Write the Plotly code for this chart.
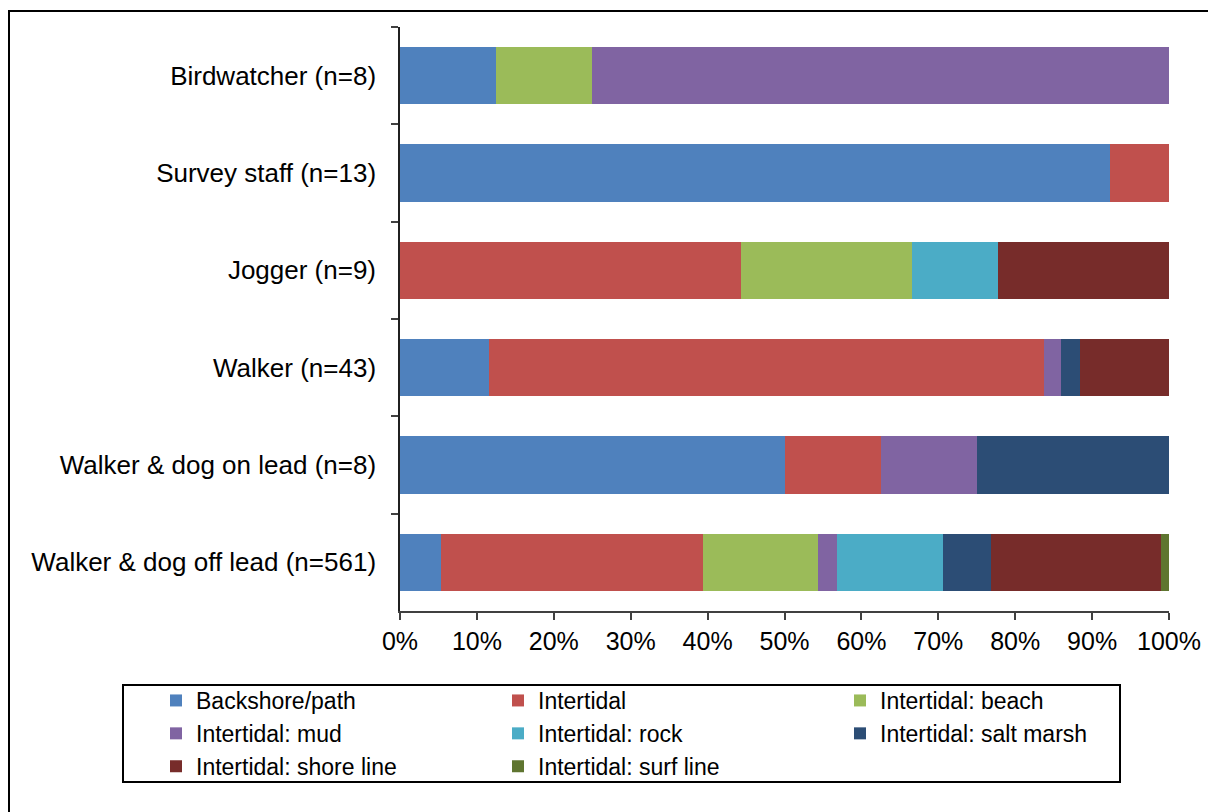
import plotly.graph_objects as go

# Visitor groups (top to bottom) and the share of each group's observations by zone
groups = [
    "Birdwatcher (n=8)",
    "Survey staff (n=13)",
    "Jogger (n=9)",
    "Walker (n=43)",
    "Walker & dog on lead (n=8)",
    "Walker & dog off lead (n=561)",
]

zones = [
    "Backshore/path",
    "Intertidal",
    "Intertidal: beach",
    "Intertidal: mud",
    "Intertidal: rock",
    "Intertidal: salt marsh",
    "Intertidal: shore line",
    "Intertidal: surf line",
]

backshore_path = [0.125, 0.923, 0.0, 0.116, 0.500, 0.0535]
intertidal = [0.0, 0.077, 0.444, 0.721, 0.125, 0.3405]
intertidal_beach = [0.125, 0.0, 0.222, 0.0, 0.0, 0.1497]
intertidal_mud = [0.750, 0.0, 0.0, 0.023, 0.125, 0.0250]
intertidal_rock = [0.0, 0.0, 0.111, 0.0, 0.0, 0.1373]
intertidal_salt_marsh = [0.0, 0.0, 0.0, 0.024, 0.250, 0.0624]
intertidal_shore_line = [0.0, 0.0, 0.223, 0.116, 0.0, 0.2210]
intertidal_surf_line = [0.0, 0.0, 0.0, 0.0, 0.0, 0.0107]

series = [
    backshore_path,
    intertidal,
    intertidal_beach,
    intertidal_mud,
    intertidal_rock,
    intertidal_salt_marsh,
    intertidal_shore_line,
    intertidal_surf_line,
]

colors = ["#4F81BD", "#C0504D", "#9BBB59", "#8064A2",
          "#4BACC6", "#2C4D75", "#772C2A", "#5F7530"]

x_ticks = [i / 10 for i in range(11)]
x_tick_labels = [f"{i * 10}%" for i in range(11)]

W, H = 1208, 812
ML, MR, MT, MB = 400, 39, 27, 201
PW, PH = W - ML - MR, H - MT - MB
FONT = "Liberation Sans, Arial, sans-serif"


def px_x(x):
    return (x - ML) / PW


def px_y(y):
    return (H - MB - y) / PH


fig = go.Figure()
for name, vals, col in zip(zones, series, colors):
    fig.add_trace(go.Bar(
        y=groups, x=vals, name=name, orientation="h",
        marker=dict(color=col, line=dict(width=0)),
    ))

fig.update_layout(
    width=W, height=H,
    margin=dict(l=ML, r=MR, t=MT, b=MB, pad=0, autoexpand=False),
    barmode="stack", bargap=0.41,
    plot_bgcolor="white", paper_bgcolor="white",
    font=dict(family=FONT, size=25, color="black"),
    showlegend=True,
    legend=dict(
        orientation="h", traceorder="normal",
        xref="paper", yref="paper",
        x=px_x(156), y=px_y(679), xanchor="left", yanchor="top",
        entrywidth=297, entrywidthmode="pixels", itemwidth=30,
        font=dict(family=FONT, size=23, color="black"),
        bgcolor="rgba(0,0,0,0)", borderwidth=0,
    ),
    xaxis=dict(
        range=[0, 1], tickvals=x_ticks, ticktext=x_tick_labels,
        showgrid=False, zeroline=False,
        showline=True, linecolor="#404040", linewidth=1.5,
        ticks="outside", ticklen=7, tickcolor="#404040", tickwidth=1.5,
        tickfont=dict(family=FONT, size=25, color="black"),
    ),
    yaxis=dict(
        autorange="reversed", showgrid=False, zeroline=False,
        showline=True, linecolor="#202020", linewidth=1.5,
        ticks="outside", ticklen=7, tickcolor="#404040", tickwidth=1.5,
        tickson="boundaries", ticklabelstandoff=17,
        tickfont=dict(family=FONT, size=26, color="black"),
    ),
    shapes=[
        # outer chart frame
        dict(type="rect", xref="paper", yref="paper",
             x0=px_x(9), x1=px_x(1220), y0=px_y(830), y1=px_y(11),
             line=dict(color="black", width=2), fillcolor="rgba(0,0,0,0)", layer="above"),
        # legend frame
        dict(type="rect", xref="paper", yref="paper",
             x0=px_x(123), x1=px_x(1120), y0=px_y(782), y1=px_y(685),
             line=dict(color="black", width=2), fillcolor="rgba(0,0,0,0)", layer="above"),
    ],
)

fig.write_html("out.html")
